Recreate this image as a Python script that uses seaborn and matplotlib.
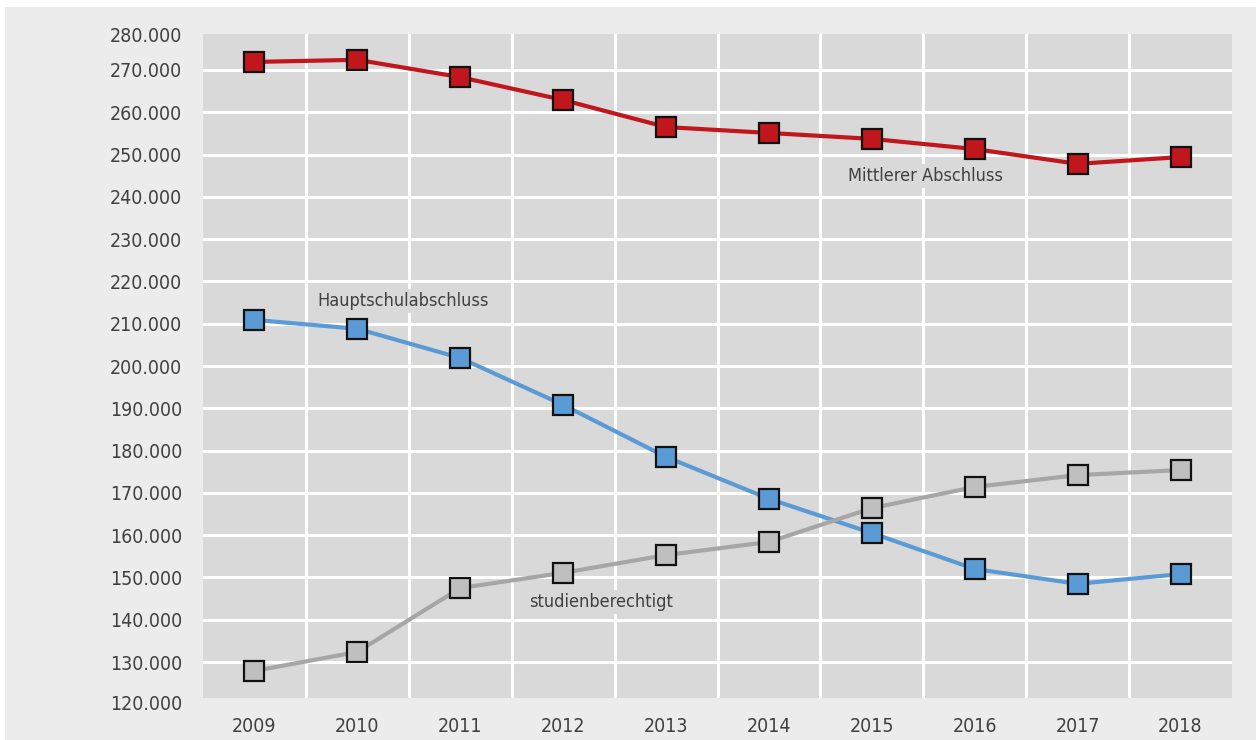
import matplotlib
matplotlib.use("Agg")
import matplotlib.pyplot as plt
from matplotlib.patches import Rectangle
from matplotlib.ticker import FixedLocator
import seaborn as sns
import pandas as pd

years = ["2009", "2010", "2011", "2012", "2013", "2014", "2015", "2016", "2017", "2018"]
mittlerer = [271.9, 272.4, 268.3, 262.9, 256.5, 255.1, 253.7, 251.3, 247.8, 249.4]
haupt = [210.9, 208.8, 201.9, 190.8, 178.5, 168.6, 160.5, 152.0, 148.5, 150.8]
studien = [127.9, 132.4, 147.5, 151.1, 155.3, 158.4, 166.4, 171.4, 174.2, 175.4]
series_names = ["Mittlerer Abschluss", "Hauptschulabschluss", "studienberechtigt"]
ytick_vals = list(range(120, 290, 10))

sns.set_theme(style="white")
plt.rcParams['font.family'] = ['DejaVu Sans']
plt.rcParams['font.stretch'] = 'condensed'

rows = []
for name, vals in zip(series_names, [mittlerer, haupt, studien]):
    for i, (yr, v) in enumerate(zip(years, vals)):
        rows.append({"idx": i, "year": yr, "value": v, "series": name})
df = pd.DataFrame(rows)

line_colors = {"Mittlerer Abschluss": "#c0161c", "Hauptschulabschluss": "#5b9bd5", "studienberechtigt": "#a6a6a6"}
marker_fill = {"Mittlerer Abschluss": "#c0161c", "Hauptschulabschluss": "#5b9bd5", "studienberechtigt": "#bfbfbf"}

fig = plt.figure(figsize=(12.56, 7.40), dpi=100, facecolor="white")
fig.patches.append(Rectangle((5/1256, 0), 1 - 5/1256, 733/740, transform=fig.transFigure,
                             facecolor="#ececec", edgecolor="none", zorder=-10))
ax = fig.add_axes([203/1256, 42/740, 1029/1256, 664/740])
ax.set_facecolor("#d9d9d9")

for name in series_names:
    sub = df[df.series == name]
    sns.lineplot(data=sub, x="idx", y="value", ax=ax, color=line_colors[name], linewidth=3,
                 marker="s", markersize=14, markerfacecolor=marker_fill[name],
                 markeredgecolor="#111111", markeredgewidth=1.6, zorder=3, legend=False)

ax.set_xlim(-0.5, 9.5)
ax.set_ylim(121.5, 278.5)
ax.set_xticks(range(len(years)))
ax.set_xticklabels(years)
ax.xaxis.set_minor_locator(FixedLocator([i + 0.5 for i in range(len(years) - 1)]))
inner = [v for v in ytick_vals if 121.5 < v < 278.5]
ax.set_yticks(inner)
ax.set_yticklabels([f"{v}.000" for v in inner])
ax.grid(False)
ax.grid(which="minor", axis="x", color="white", linewidth=2.2)
ax.grid(which="major", axis="y", color="white", linewidth=2.2)
ax.set_axisbelow(True)
for s in ax.spines.values():
    s.set_visible(False)
FS = 14
ax.tick_params(axis="both", which="both", length=0, labelsize=FS, labelcolor="#404040")
ax.tick_params(axis="y", pad=15)
ax.tick_params(axis="x", pad=14)
ax.set_xlabel("")
ax.set_ylabel("")

# edge tick labels placed like the original
ax.annotate(f"{ytick_vals[0]}.000", xy=(0, 120), xycoords=("axes fraction", "data"), xytext=(-21, 0),
            textcoords="offset pixels", ha="right", va="center", fontsize=FS, color="#404040",
            annotation_clip=False)
ax.annotate(f"{ytick_vals[-1]}.000", xy=(0, 278.5), xycoords=("axes fraction", "data"), xytext=(-21, -2),
            textcoords="offset pixels", ha="right", va="center", fontsize=FS, color="#404040",
            annotation_clip=False)

label_pos = {"Mittlerer Abschluss": (6.52, 244.9), "Hauptschulabschluss": (1.44, 215.4),
             "studienberechtigt": (3.37, 144.2)}
for name, (x, y) in label_pos.items():
    ax.text(x, y, name, ha="center", va="center", fontsize=13, color="#404040", zorder=4,
            bbox=dict(facecolor="#d9d9d9", edgecolor="none", pad=2))

fig.savefig("out.png", dpi=100, facecolor=fig.get_facecolor())
